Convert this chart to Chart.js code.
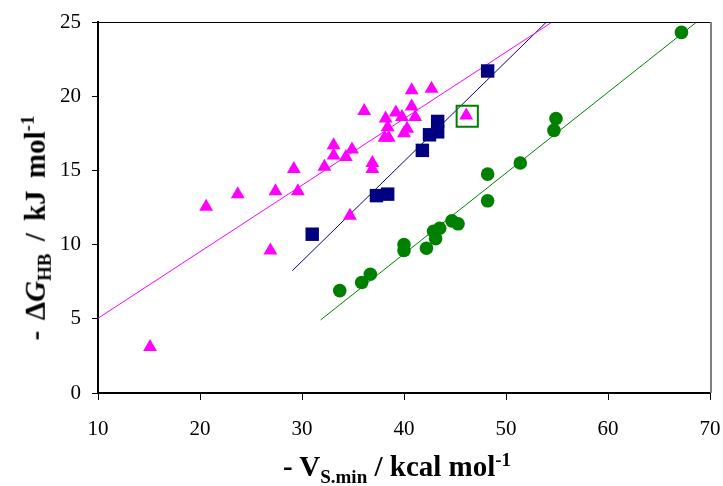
<!DOCTYPE html>
<html>
<head>
<meta charset="utf-8">
<script src="https://cdn.jsdelivr.net/npm/chart.js@4.4.1/dist/chart.umd.min.js"></script>
<style>
	html, body { margin: 0; padding: 0; background: #fff; }
	#wrap { position: relative; width: 723px; height: 486px; }
	.axis-title {
		position: absolute;
		font-family: 'Liberation Serif', 'Times New Roman', serif;
		font-weight: bold;
		font-size: 29px;
		line-height: 1;
		color: #000;
		white-space: nowrap;
		transform: translate(-50%, -50%);
	}
	.axis-title sub, .axis-title sup { font-size: 19px; }
	#ytitle { left: 36px; top: 228px; word-spacing: 5px; transform: translate(-50%, -50%) rotate(-90deg); }
	#xtitle { left: 397px; top: 468px; }
</style>
</head>
<body>
<div id="wrap">
	<canvas id="chart" width="723" height="486"></canvas>
	<div class="axis-title" id="ytitle">- &Delta;<i>G</i><sub>HB</sub> / kJ mol<sup>-1</sup></div>
	<div class="axis-title" id="xtitle">- V<sub>S.min</sub> / kcal mol<sup>-1</sup></div>
</div>
<script>
// magenta triangles
const triX = [15.1, 20.6, 23.7, 27.4, 26.9, 29.2, 29.6, 32.2, 33.1, 33.1, 34.3, 34.9, 34.7, 36.1, 36.9, 36.9,
	38.2, 38.4, 38.1, 38.5, 39.2, 39.8, 40.0, 40.3, 40.75, 40.75, 41.1, 42.7, 46.1]
const triY = [3.1, 12.55, 13.4, 13.6, 9.6, 15.1, 13.6, 15.25, 16.7, 16.0, 15.9, 16.4, 11.95, 19.0, 15.5, 15.1,
	18.5, 17.9, 17.2, 17.2, 18.9, 18.6, 17.5, 17.8, 20.4, 19.3, 18.6, 20.5, 18.7]
// navy squares
const sqX = [31.0, 37.3, 38.4, 41.8, 42.5, 43.3, 43.3, 48.2]
const sqY = [10.7, 13.3, 13.4, 16.35, 17.4, 17.6, 18.3, 21.7]
// green circles
const circX = [33.7, 35.85, 36.7, 40.0, 40.0, 42.2, 43.1, 42.9, 43.5, 44.7, 45.3, 48.2, 48.2, 51.4, 54.7, 54.9, 67.2]
const circY = [6.9, 7.45, 8.0, 10.0, 9.6, 9.75, 10.4, 10.9, 11.1, 11.6, 11.4, 14.75, 12.95, 15.5, 17.7, 18.5, 24.3]
// boxed point
const boxX = [46.2]
const boxY = [18.65]

// trend lines: [intercept, slope, xFrom, xTo]
const triTrend = [0.55, 0.4484, 10.0, 54.54]
const sqTrend = [-11.3, 0.6726, 29.05, 53.97]
const circTrend = [-12.41, 0.5446, 31.83, 68.7]

const xTicks = [10, 20, 30, 40, 50, 60, 70]
const yTicks = [0, 5, 10, 15, 20, 25]

const toPoints = (xs, ys) => xs.map((x, i) => ({ x: x, y: ys[i] }))
const trendPoints = t => [t[2], t[3]].map(x => ({ x: x, y: t[0] + t[1] * x }))

const MAGENTA = '#FF00FF'
const NAVY = '#000080'
const GREEN = '#008000'

const lineSet = (t, color) => ({
	type: 'line',
	data: trendPoints(t),
	borderColor: color,
	borderWidth: 1,
	pointRadius: 0,
	fill: false,
	order: 10
})

// plot area frame (top black, right grey)
const framePlugin = {
	id: 'frame',
	afterDraw(chart) {
		const { ctx, chartArea: a } = chart
		ctx.save()
		ctx.strokeStyle = '#000'
		ctx.lineWidth = 1
		ctx.beginPath()
		ctx.moveTo(a.left, a.top + 0.5)
		ctx.lineTo(a.right, a.top + 0.5)
		ctx.stroke()
		ctx.strokeStyle = '#808080'
		ctx.lineWidth = 2
		ctx.beginPath()
		ctx.moveTo(a.right + 1, a.top)
		ctx.lineTo(a.right + 1, a.bottom)
		ctx.stroke()
		ctx.restore()
	}
}

const tickFont = { family: "'Liberation Serif', 'Times New Roman', serif", size: 21 }

new Chart(document.getElementById('chart'), {
	type: 'scatter',
	data: {
		datasets: [
			lineSet(triTrend, MAGENTA),
			lineSet(sqTrend, NAVY),
			lineSet(circTrend, GREEN),
			{
				data: toPoints(circX, circY),
				pointStyle: 'circle',
				pointRadius: 6.8,
				backgroundColor: GREEN,
				borderColor: GREEN,
				borderWidth: 0,
				order: 3
			},
			{
				data: toPoints(sqX, sqY),
				pointStyle: 'rect',
				pointRadius: 9.5,
				backgroundColor: NAVY,
				borderColor: NAVY,
				borderWidth: 0,
				order: 2
			},
			{
				data: toPoints(triX, triY),
				pointStyle: 'triangle',
				pointRadius: 8,
				backgroundColor: MAGENTA,
				borderColor: MAGENTA,
				borderWidth: 0,
				order: 1
			},
			{
				data: toPoints(boxX, boxY),
				pointStyle: 'rect',
				pointRadius: 15,
				backgroundColor: 'rgba(0,0,0,0)',
				borderColor: GREEN,
				borderWidth: 2,
				order: 0
			}
		]
	},
	options: {
		responsive: false,
		animation: false,
		layout: { autoPadding: false, padding: { left: 0, top: 22, right: 13, bottom: 0 } },
		plugins: {
			legend: { display: false },
			tooltip: { enabled: false }
		},
		scales: {
			x: {
				type: 'linear',
				min: 10,
				max: 70,
				afterFit: s => { s.height = 93; s.paddingLeft = 0; s.paddingRight = 0 },
				afterBuildTicks: s => { s.ticks = xTicks.map(v => ({ value: v })) },
				grid: { drawOnChartArea: false, drawTicks: true, tickLength: 7, color: '#000', tickWidth: 1 },
				border: { display: true, color: '#000', width: 2 },
				ticks: { color: '#000', font: tickFont, padding: 17, maxRotation: 0 }
			},
			y: {
				type: 'linear',
				min: 0,
				max: 25,
				afterFit: s => { s.width = 98; s.paddingTop = 0; s.paddingBottom = 0 },
				afterBuildTicks: s => { s.ticks = yTicks.map(v => ({ value: v })) },
				grid: { drawOnChartArea: false, drawTicks: true, tickLength: 6, color: '#000', tickWidth: 1 },
				border: { display: true, color: '#000', width: 2 },
				ticks: { color: '#000', font: tickFont, padding: 11 }
			}
		}
	},
	plugins: [framePlugin]
})
</script>
</body>
</html>
